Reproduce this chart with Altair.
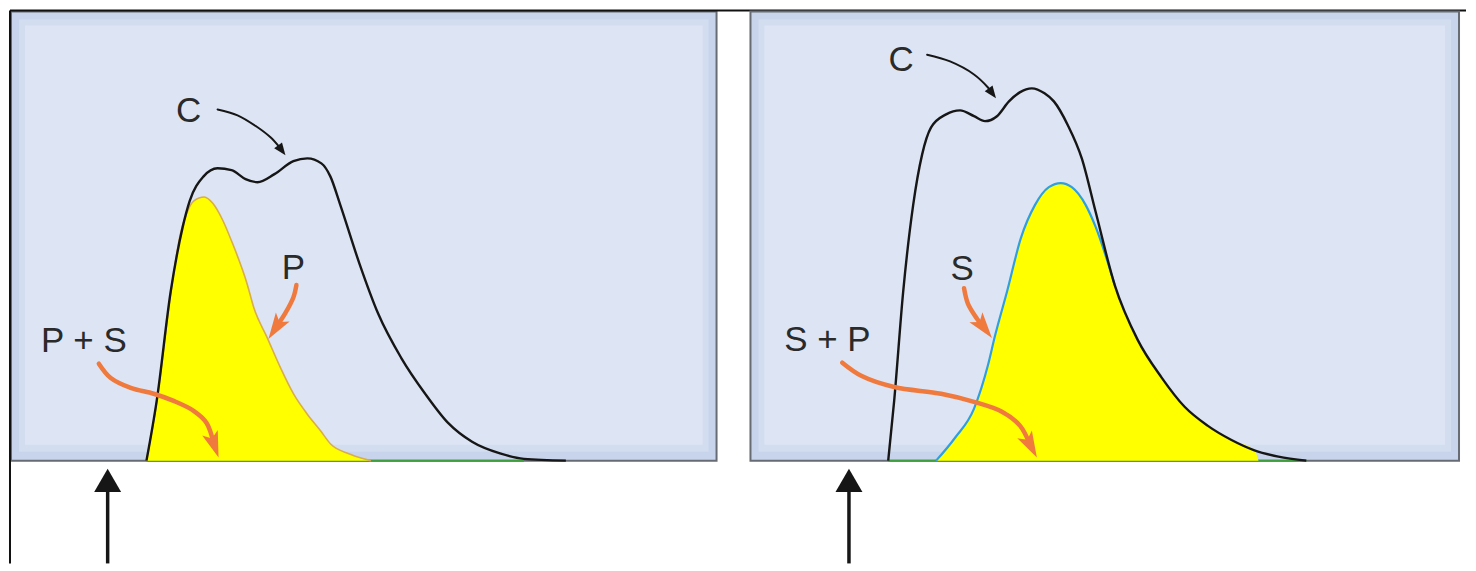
import math
import altair as alt
import pandas as pd

# ---------------- data ----------------
# Left panel: composite chromatogram C and component P (yellow)
LEFT_C_T = [19.2, 20.65, 22.63, 24.33, 25.32, 27.30, 29.28, 31.26, 33.24, 34.94, 37.34, 40.03,
            42.01, 43.99, 45.26, 46.68, 49.36, 52.05, 55.30, 58.70, 61.95, 65.35, 69.31, 72.70, 78.64]
LEFT_C_S = [0, 13.3, 37.6, 52.0, 57.8, 63.3, 65.1, 64.7, 62.7, 62.0, 63.8, 66.7,
            67.3, 66.2, 63.3, 56.9, 44.0, 32.7, 22.9, 14.9, 8.4, 4.2, 1.6, 0.4, 0]
LEFT_P_T = [19.2, 20.65, 22.63, 24.04, 24.89, 25.88, 27.4, 28.6, 29.96, 31.29, 33.48, 34.41,
            36.31, 38.19, 40.07, 41.97, 43.85, 45.30, 47.98, 49.99, 51.0]
LEFT_P_S = [0, 13.0, 37.2, 50.7, 55.0, 57.8, 58.7, 57.3, 53.7, 48.8, 39.3, 34.1,
            27.4, 20.7, 14.8, 10.4, 6.7, 3.7, 1.5, 0.4, 0]
LEFT_GREEN = [19.2, 72.7]
LEFT_INJECT = 13.7

# Right panel: composite chromatogram C and component S (yellow)
RIGHT_C_T = [19.44, 20.28, 21.55, 22.96, 24.23, 25.49, 27.61, 29.58, 31.55, 33.10, 34.79, 36.48,
             38.0, 39.7, 41.5, 42.82, 44.79, 46.76, 48.73, 51.41, 54.65, 58.03, 61.27, 64.51,
             67.89, 71.13, 74.51, 78.45]
RIGHT_C_S = [0, 13.3, 37.6, 56.9, 68.2, 74.2, 77.1, 78.0, 76.7, 75.6, 76.7, 80.0,
             82.0, 82.9, 81.8, 80.0, 74.7, 67.3, 55.3, 39.1, 26.9, 18.5, 12.0, 7.8,
             4.6, 2.3, 0.9, 0]
RIGHT_S_T = [26.20, 28.87, 31.55, 33.52, 34.51, 36.20, 38.17, 40.14, 42.11, 43.80, 45.35, 47.32,
             48.73, 51.41, 54.65, 58.03, 61.27, 64.51, 67.89, 71.13, 71.7]
RIGHT_S_S = [0, 5.1, 11.6, 21.3, 27.8, 37.6, 49.6, 56.9, 60.9, 61.8, 60.9, 56.9,
             52.0, 39.1, 26.9, 18.5, 12.0, 7.8, 4.6, 2.3, 0]
RIGHT_GREEN = [19.44, 78.45]
RIGHT_INJECT = 13.9

# Labels
LEFT_LABELS = ["C", "P", "P + S"]
LEFT_LABEL_T = [25.18, 40.03, 10.33]
LEFT_LABEL_S = [75.3, 40.4, 24.3]
RIGHT_LABELS = ["C", "S", "S + P"]
RIGHT_LABEL_T = [21.27, 29.86, 10.85]
RIGHT_LABEL_S = [86.8, 40.2, 24.5]

# Annotation arrows (last point = tip)
LEFT_ARROW_C_T = [29.28, 32.11, 34.79, 36.78, 38.05, 38.90]
LEFT_ARROW_C_S = [78.2, 76.9, 74.4, 72.0, 69.8, 68.0]
LEFT_ARROW_P_T = [40.45, 40.03, 38.90, 36.49]
LEFT_ARROW_P_S = [39.1, 36.4, 32.9, 27.1]
LEFT_ARROW_PS_T = [12.45, 14.14, 16.97, 20.23, 23.06, 25.88, 27.72, 29.42]
LEFT_ARROW_PS_S = [21.6, 18.4, 16.2, 14.9, 13.3, 11.1, 8.4, 0.7]

RIGHT_ARROW_C_T = [24.93, 28.17, 31.55, 33.52, 34.65]
RIGHT_ARROW_C_S = [90.4, 88.9, 86.0, 83.1, 80.7]
RIGHT_ARROW_S_T = [30.14, 30.70, 31.97, 34.08]
RIGHT_ARROW_S_S = [38.4, 34.9, 31.6, 27.3]
RIGHT_ARROW_SP_T = [12.96, 15.63, 20.28, 26.90, 31.55, 35.49, 38.03, 40.42]
RIGHT_ARROW_SP_S = [21.8, 18.9, 16.4, 14.9, 13.1, 10.9, 7.8, 0.7]

# ---------------- styling ----------------
W_L, W_R, H = 707, 710, 450
BAND = "#c7d4eb"
INNER = "#dde5f4"
EDGE = "#676b73"
YELLOW = "#ffff00"
ORANGE = "#f07a3e"
BLACK = "#161616"
FONT = "Liberation Sans"

ORANGE_HEAD = "M0,-1L0.55,0.75L0,0.35L-0.55,0.75Z"
BLACK_HEAD = "M0,-1L0.75,0.9L-0.75,0.9Z"


def X(f="t"):
    return alt.X(f"{f}:Q", scale=alt.Scale(domain=[0, 100], nice=False, zero=False), axis=None)


def Y(f="s"):
    return alt.Y(f"{f}:Q", scale=alt.Scale(domain=[0, 100], nice=False, zero=False), axis=None)


def arrow_layers(arrows, width, color, stroke_w, head_shape, head_size):
    kx, ky = width / 100.0, H / 100.0
    r = math.sqrt(head_size) / 2.0
    line_rows, head_rows = [], []
    for aid, (ts, ss) in enumerate(arrows):
        tt, st = ts[-1], ss[-1]
        tp, sp = ts[-2], ss[-2]
        dx = (tt - tp) * kx
        dy = (st - sp) * ky
        L = math.hypot(dx, dy)
        ux, uy = dx / L, dy / L
        ct = tt - r * ux / kx
        cs = st - r * uy / ky
        ang = math.degrees(math.atan2(dx, dy)) % 360
        pts = list(zip(ts[:-1], ss[:-1])) + [(ct, cs)]
        for i, (a, b) in enumerate(pts):
            line_rows.append({"id": aid, "i": i, "t": a, "s": b})
        head_rows.append({"id": aid, "t": ct, "s": cs, "angle": ang})
    line = alt.Chart(pd.DataFrame(line_rows)).mark_line(
        color=color, strokeWidth=stroke_w, interpolate="catmull-rom", strokeCap="round"
    ).encode(x=X(), y=Y(), detail="id:N", order="i:Q")
    head = alt.Chart(pd.DataFrame(head_rows)).mark_point(
        shape=head_shape, size=head_size, filled=True, color=color, opacity=1, strokeWidth=0
    ).encode(x=X(), y=Y(), angle=alt.Angle("angle:Q", scale=None))
    return [line, head]


def panel(width, c_t, c_s, f_t, f_s, outline, outline_w, outline_n, green, labels, lab_t, lab_s,
          black_arrow, orange_arrows, inject, frame):
    one = pd.DataFrame({"k": [0]})
    layers = []
    # lighter inner area of the panel
    layers.append(alt.Chart(one).mark_rect(color="#d3ddf0").encode(
        x=alt.value(8), x2=alt.value(width - 8), y=alt.value(8), y2=alt.value(441)))
    layers.append(alt.Chart(one).mark_rect(color=INNER).encode(
        x=alt.value(14), x2=alt.value(width - 14), y=alt.value(14), y2=alt.value(434)))
    # green baseline
    layers.append(alt.Chart(pd.DataFrame({"t0": [green[0]], "t1": [green[1]], "s": [0]})).mark_rule(
        color="#3f9f3f", strokeWidth=2).encode(x=X("t0"), x2="t1:Q", y=Y()))
    # yellow component
    fdf = pd.DataFrame({"t": f_t, "s": f_s})
    layers.append(alt.Chart(fdf).mark_area(color=YELLOW, opacity=1, interpolate="monotone").encode(
        x=X(), y=Y(), y2=alt.datum(0)))
    odf = pd.DataFrame({"t": f_t[:outline_n], "s": f_s[:outline_n]})
    layers.append(alt.Chart(odf).mark_line(color=outline, strokeWidth=outline_w,
                                           interpolate="monotone").encode(x=X(), y=Y()))
    # composite curve C
    layers.append(alt.Chart(pd.DataFrame({"t": c_t, "s": c_s})).mark_line(
        color=BLACK, strokeWidth=2.4, interpolate="monotone").encode(x=X(), y=Y()))
    # annotation arrows
    layers += arrow_layers([black_arrow], width, BLACK, 2, BLACK_HEAD, 169)
    layers += arrow_layers(orange_arrows, width, ORANGE, 4.5, ORANGE_HEAD, 900)
    # labels
    layers.append(alt.Chart(pd.DataFrame({"t": lab_t, "s": lab_s, "label": labels})).mark_text(
        font=FONT, fontSize=35, color="#2a2a2a", align="center", baseline="alphabetic").encode(
        x=X(), y=Y(), text="label:N"))
    # injection arrow below the panel
    idf = pd.DataFrame({"t": [inject]})
    layers.append(alt.Chart(idf).mark_rule(color=BLACK, strokeWidth=3.5).encode(
        x=X(), y=alt.value(470), y2=alt.value(553)))
    layers.append(alt.Chart(idf).mark_point(shape="triangle-up", size=729, filled=True,
                                            color=BLACK, opacity=1, strokeWidth=0).encode(
        x=X(), y=alt.value(469.7)))
    if frame:
        layers.append(alt.Chart(one).mark_rule(color="#111111", strokeWidth=2).encode(
            x=alt.value(-1), x2=alt.value(1458), y=alt.value(-1)))
        layers.append(alt.Chart(one).mark_rule(color="#111111", strokeWidth=2).encode(
            x=alt.value(-1), y=alt.value(-1), y2=alt.value(553)))
    return alt.layer(*layers).properties(width=width, height=H)


left = panel(W_L, LEFT_C_T, LEFT_C_S, LEFT_P_T, LEFT_P_S, "#d9ad4a", 1.6, len(LEFT_P_T), LEFT_GREEN,
             LEFT_LABELS, LEFT_LABEL_T, LEFT_LABEL_S,
             (LEFT_ARROW_C_T, LEFT_ARROW_C_S),
             [(LEFT_ARROW_P_T, LEFT_ARROW_P_S), (LEFT_ARROW_PS_T, LEFT_ARROW_PS_S)],
             LEFT_INJECT, True)
right = panel(W_R, RIGHT_C_T, RIGHT_C_S, RIGHT_S_T, RIGHT_S_S, "#2f9fe0", 2.2, 14, RIGHT_GREEN,
              RIGHT_LABELS, RIGHT_LABEL_T, RIGHT_LABEL_S,
              (RIGHT_ARROW_C_T, RIGHT_ARROW_C_S),
              [(RIGHT_ARROW_S_T, RIGHT_ARROW_S_S), (RIGHT_ARROW_SP_T, RIGHT_ARROW_SP_S)],
              RIGHT_INJECT, False)

chart = alt.hconcat(left, right, spacing=34, bounds="flush").properties(
    padding=0, background="white"
).configure_view(fill=BAND, stroke=EDGE, strokeWidth=2)

chart.save("out.html", embed_options={"renderer": "svg", "actions": False})
